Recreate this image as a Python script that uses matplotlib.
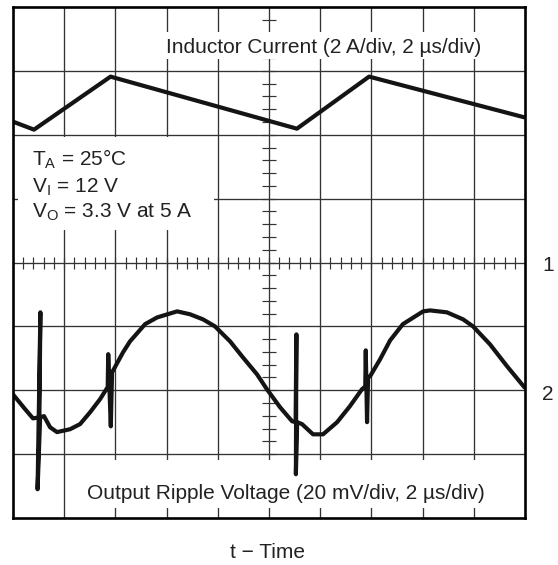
import numpy as np
import matplotlib
matplotlib.use('Agg')
import matplotlib.pyplot as plt
from matplotlib.patches import Rectangle

plt.rcParams['font.family'] = ['Liberation Sans', 'DejaVu Sans']
plt.rcParams['mathtext.fontset'] = 'custom'
plt.rcParams['mathtext.rm'] = 'Liberation Sans'
plt.rcParams['mathtext.it'] = 'Liberation Sans'

# scope settings
us_per_div = 2.0
amp_per_div = 2.0
mv_per_div = 20.0
ch1_ref = 4.0   # divisions from bottom
ch2_ref = 2.0

# channel 1: inductor current (A) vs time (us)
current_t = [0.0, 0.82, 3.81, 11.09, 13.91, 20.0]
current_a = [4.41, 4.16, 5.82, 4.19, 5.82, 4.54]

# channel 2: output ripple (mV) vs time (us)
ripple_t = [0.0, 0.47, 0.78, 1.03, 1.07, 0.96, 1.06, 1.21, 1.45, 1.72, 2.23,
            2.62, 3.01, 3.40, 3.70, 3.72, 3.82, 3.87, 4.30, 4.57, 5.16, 5.63,
            6.41, 6.91, 7.42, 7.89, 8.48, 8.98, 9.53, 9.92, 10.43, 10.90,
            11.04, 11.07, 11.05, 11.10, 11.29, 11.72, 12.11, 12.66, 13.16,
            13.63, 13.76, 13.78, 13.83, 13.87, 13.95, 14.34, 14.73, 15.23,
            16.02, 16.29, 16.95, 17.58, 17.97, 18.63, 19.30, 19.98]
ripple_mv = [-1.3, -5.9, -8.8, -8.5, 24.4, -31.0, -8.5, -8.1, -11.6, -13.1,
             -12.2, -10.6, -6.9, -2.8, 1.0, 11.3, -11.3, 5.6, 11.9, 15.3, 20.7,
             22.8, 24.7, 23.8, 22.2, 20.0, 15.3, 10.3, 5.0, 0.3, -5.3, -9.7,
             -10.0, 17.5, -26.3, -10.0, -10.6, -13.8, -13.8, -10.0, -5.0, 0.3,
             1.2, 12.5, -10.0, 4.1, 4.4, 9.7, 15.6, 20.7, 24.7, 25.0, 24.4,
             22.2, 20.0, 14.4, 7.5, 0.9]

ch1_label = 'Inductor Current (2 A/div, 2 µs/div)'
ch2_label = 'Output Ripple Voltage (20 mV/div, 2 µs/div)'
cond_lines = [r'$\mathrm{T_A}$ = 25°C', r'$\mathrm{V_I}$ = 12 V',
              r'$\mathrm{V_O}$ = 3.3 V at 5 A']

fig = plt.figure(figsize=(5.58, 5.65), dpi=100)
ax = fig.add_axes([13 / 558, 1 - 518 / 565, 512 / 558, 511 / 565])
ax.set_xlim(0, 10)
ax.set_ylim(0, 8)
ax.set_xticks([])
ax.set_yticks([])
for s in ax.spines.values():
    s.set_linewidth(1.9)
    s.set_color('black')
    s.set_zorder(6)

gc = '#333333'
for i in range(1, 10):
    ax.axvline(i, color=gc, lw=0.95, zorder=1)
for j in range(1, 8):
    ax.axhline(j, color=gc, lw=0.95, zorder=1)

# minor ticks on the centre lines
mx = np.arange(0.2, 10, 0.2)
ax.plot(mx, np.full_like(mx, 4.0), ls='none', marker='|', ms=8.5, mew=0.85,
        color=gc, zorder=1)
my = np.arange(0.2, 8, 0.2)
ax.plot(np.full_like(my, 5.0), my, ls='none', marker='_', ms=10, mew=0.85,
        color=gc, zorder=1)

# white label areas
for (x0, y0, w, h) in [(2.68, 7.19, 6.77, 0.42), (0.1, 4.51, 3.83, 1.45),
                       (1.21, 0.16, 8.24, 0.75)]:
    ax.add_patch(Rectangle((x0, y0), w, h, facecolor='white',
                           edgecolor='none', zorder=2))

fs = 15
ax.text(6.07, 7.28, ch1_label, ha='center', va='baseline', fontsize=fs,
        color='#222222', zorder=4)
ax.text(5.33, 0.30, ch2_label, ha='center', va='baseline', fontsize=fs,
        color='#222222', zorder=4)
for k, y in enumerate([5.51, 5.09, 4.70]):
    ax.text(0.37, y, cond_lines[k], ha='left', va='baseline', fontsize=fs,
            color='#222222', zorder=4)

ct = np.array(current_t) / us_per_div
cy = ch1_ref + np.array(current_a) / amp_per_div
ax.plot(ct, cy, color='#141414', lw=3.0, solid_joinstyle='round',
        solid_capstyle='butt', zorder=3, clip_on=True)

rt = np.array(ripple_t) / us_per_div
ry = ch2_ref + np.array(ripple_mv) / mv_per_div
ax.plot(rt, ry, color='#141414', lw=3.0, solid_joinstyle='round',
        solid_capstyle='round', zorder=3, clip_on=True)

ax.text(10.45, ch1_ref - 0.04, '1', ha='center', va='center', fontsize=fs,
        color='#222222', clip_on=False)
ax.text(10.45, ch2_ref - 0.06, '2', ha='center', va='center', fontsize=fs,
        color='#222222', clip_on=False)

fig.text(268 / 558, 1 - 552 / 565, 't − Time', ha='center', va='center',
         fontsize=fs, color='#222222')

fig.savefig('out.png', dpi=100)
